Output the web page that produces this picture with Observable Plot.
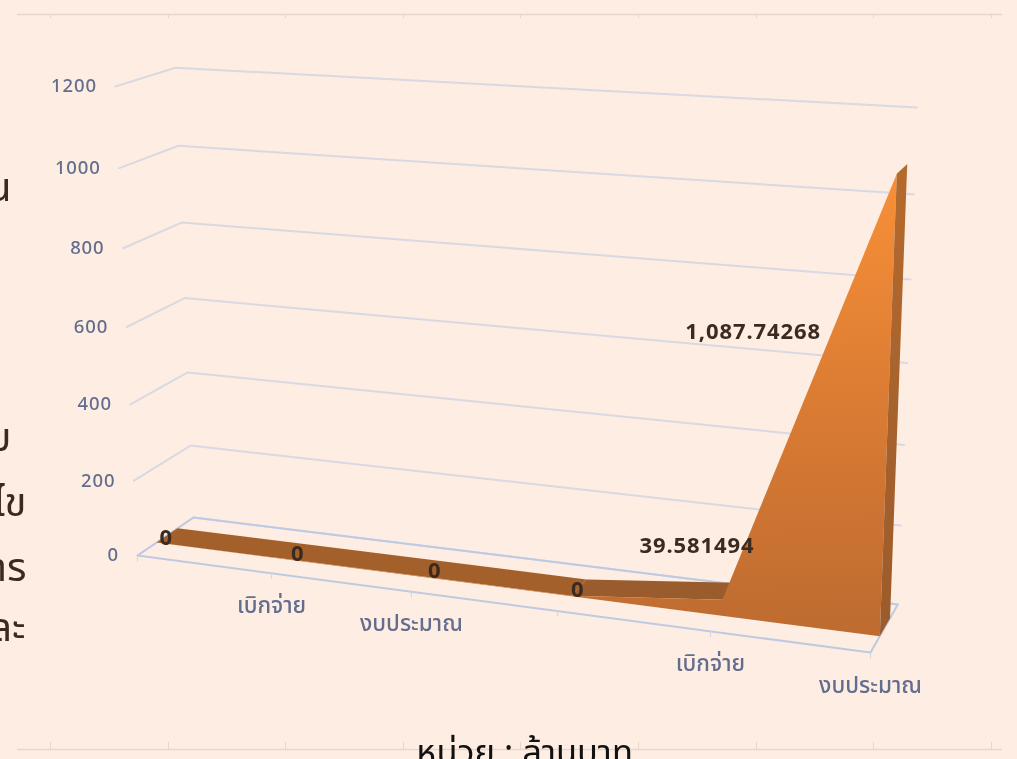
<!DOCTYPE html>
<html>
<head>
<meta charset="utf-8">
<script src="https://cdn.jsdelivr.net/npm/d3@7"></script>
<script src="https://cdn.jsdelivr.net/npm/@observablehq/plot@0.6"></script>
<style>
html,body{margin:0;padding:0;background:#feede2;overflow:hidden}
svg{display:block;filter:blur(0.4px)}
.val text{letter-spacing:.9px}
.num text{letter-spacing:.9px}
</style>
</head>
<body>
<script>
// ---- data ----
const categories = ["", "เบิกจ่าย", "งบประมาณ", "", "เบิกจ่าย", "งบประมาณ"];
const values = [0, 0, 0, 0, 39.581494, 1087.74268];
const valueLabels = ["0", "0", "0", "0", "39.581494", "1,087.74268"];
const valueTicks = [0, 200, 400, 600, 800, 1000, 1200];
const unitText = "หน่วย : ล้านบาท";
const clippedSlideText = ["น", "บ", "ไข", "การ", "ละ"];

// ---- layout ----
const W = 1017, H = 759;
const slabFront = 0.33, slabBack = 0.705;
const inkBrown = "#3a2a20", axisInk = "#636d8e";
const labelNudge = [[-2,3],[-2,3],[-2,3],[-2,3],[-32.5,-44],[-149.5,164]];
const slideGuides = [50,168,285,403,520,638,756,873,991];

// Perspective camera of the 3-D chart: category index, value, depth -> page position
function project(i, v, d) {
  const u = i / (categories.length - 1), h = v / 1200;
  const x = (137 + 641.65*u + 64.64*d - 27.75*h) / (1 - 0.105*u + 0.04477*d - 0.05*h);
  const y = (555 + 14.07*u - 14.85*d - 473.3*h + 11.9*u*h) / (1 - 0.1272*u + 0.04477*d - 0.05*h);
  return {x, y};
}
const last = categories.length - 1;

// polygons / polylines in chart space
const row = (z, i, v, d) => ({z, ...project(i, v, d)});
const wallLines = valueTicks.flatMap(v => [row(v,0,v,0), row(v,0,v,1), row(v,last,v,1)]);
const floorLine = [row("f",0,0,0), row("f",0,0,1), row("f",last,0,1), row("f",last,0,0), row("f",0,0,0)];
const floorTicks = categories.map((c, i) => ({...project(i,0,0), i}));

const bandA = [0,1,2,3].map(i => row("a",i,values[i],slabFront))
  .concat([3,2,1,0].map(i => row("a",i,values[i],slabBack)));
const bandB = [3,4].map(i => row("b",i,values[i],slabFront))
  .concat([4,3].map(i => row("b",i,values[i],slabBack)));
const frontFace = values.map((v,i) => row("front",i,v,slabFront))
  .concat([row("front",last,0,slabFront), row("front",0,0,slabFront)]);
const sideFace = [row("s",last,0,slabFront), row("s",last,values[last],slabFront),
                  row("s",last,values[last],slabBack), row("s",last,0,slabBack)];

const catText = categories.map((c,i) => ({c, ...project(i,0,0)})).filter(d => d.c);
const tickText = valueTicks.map(v => ({v, ...project(0,v,0)}));
const valText = valueLabels.map((t,i) => {
  const p = project(i, values[i], (slabFront+slabBack)/2 + 0.02);
  return {t, x: p.x + labelNudge[i][0], y: p.y + labelNudge[i][1]};
});
const clipText = clippedSlideText.map((t,i) => ({t, x:[11,11,26,26,25][i], y:[200,450,515,580,640][i]}));

const defs = () => {
  const d = d3.create("svg:defs");
  const g1 = d.append("linearGradient").attr("id","faceGrad").attr("x1",0).attr("y1",0).attr("x2",0.04).attr("y2",1);
  g1.append("stop").attr("offset",0.0).attr("stop-color","#fb9138");
  g1.append("stop").attr("offset",0.55).attr("stop-color","#d97b33");
  g1.append("stop").attr("offset",1).attr("stop-color","#bf6c31");
  const g2 = d.append("linearGradient").attr("id","sideGrad").attr("x1",0).attr("y1",0).attr("x2",0).attr("y2",1);
  g2.append("stop").attr("offset",0).attr("stop-color","#b56a2e");
  g2.append("stop").attr("offset",1).attr("stop-color","#9b5b2b");
  return d.node();
};

const font = '"Noto Sans","Noto Sans Thai","Open Sans",sans-serif';
const chart = Plot.plot({
  width: W, height: H,
  margin: 0,
  x: {domain:[0,W], range:[0,W], axis:null},
  y: {domain:[0,H], range:[0,H], axis:null},
  style: {background:"#feede2", fontFamily:font},
  marks: [
    defs,
    // slide table guides
    Plot.ruleY([14,749], {x1:17, x2:1002, stroke:"#e6d6cb", strokeWidth:1.5}),
    Plot.ruleX(slideGuides, {y1:14, y2:18, stroke:"#e6d6cb"}),
    Plot.ruleX(slideGuides, {y1:742, y2:749, stroke:"#e6d6cb"}),
    // walls and floor
    Plot.line(wallLines, {x:"x", y:"y", z:"z", stroke:"#d9d9e2", strokeWidth:2, curve:"linear"}),
    Plot.line(floorLine, {x:"x", y:"y", z:"z", stroke:"#bfcae2", strokeWidth:2, curve:"linear"}),
    Plot.link(floorTicks, {x1:"x", y1:"y", x2:"x", y2:d=>d.y+6, stroke:"#cfd6e6", strokeWidth:1}),
    // 3-D area
    Plot.line(bandA, {x:"x", y:"y", z:"z", fill:"#a4602b", stroke:"none"}),
    Plot.line(bandB, {x:"x", y:"y", z:"z", fill:"#9a5c2c", stroke:"none"}),
    Plot.line(frontFace, {x:"x", y:"y", z:"z", fill:"url(#faceGrad)", stroke:"none"}),
    Plot.line(sideFace, {x:"x", y:"y", z:"z", fill:"url(#sideGrad)", stroke:"none"}),
    // labels
    Plot.text(tickText, {x:d=>d.x-18.5, y:"y", text:d=>String(d.v), textAnchor:"end", fontSize:18.5, fontWeight:500, fill:axisInk, className:"num"}),
    Plot.text(catText, {x:"x", y:d=>d.y+33, text:"c", textAnchor:"middle", fontSize:22.5, fontWeight:500, fill:axisInk}),
    Plot.text(valText, {x:"x", y:"y", text:"t", textAnchor:"middle", fontSize:22, fontWeight:700, fill:inkBrown, className:"val"}),
    Plot.text(clipText, {x:"x", y:"y", text:"t", textAnchor:"end", lineAnchor:"bottom", fontSize:40, fill:inkBrown}),
    Plot.text([unitText], {x:()=>524, y:()=>763, text:d=>d, textAnchor:"middle", lineAnchor:"bottom", fontSize:34.5, fill:"#111"})
  ]
});
document.body.appendChild(chart);
</script>
</body>
</html>
